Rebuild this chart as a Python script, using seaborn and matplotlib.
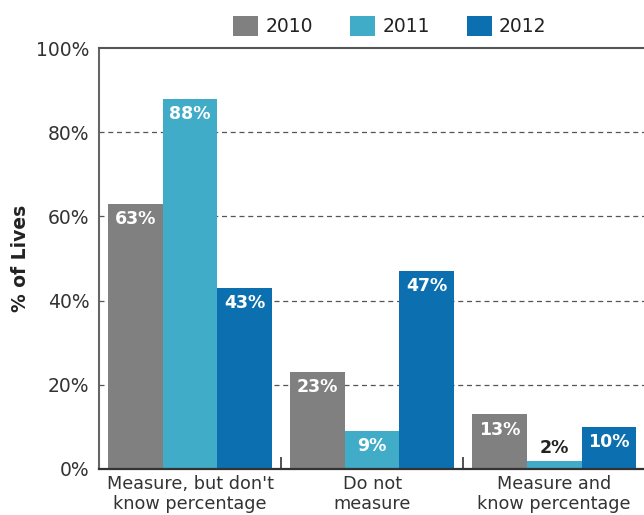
import matplotlib
matplotlib.use("Agg")
import matplotlib.pyplot as plt
import matplotlib.ticker as mticker
from matplotlib.patches import Patch
import seaborn as sns
import pandas as pd

categories = ["Measure, but don't\nknow percentage", "Do not\nmeasure", "Measure and\nknow percentage"]
years = ["2010", "2011", "2012"]
values_2010 = [63, 23, 13]
values_2011 = [88, 9, 2]
values_2012 = [43, 47, 10]
colors = ["#808080", "#41acc8", "#0c70b0"]

rows = []
for year, vals in zip(years, [values_2010, values_2011, values_2012]):
    for cat, v in zip(categories, vals):
        rows.append({"category": cat, "year": year, "value": v})
df = pd.DataFrame(rows)

sns.set_theme(style="white")
plt.rcParams["font.family"] = ["DejaVu Sans"]

fig = plt.figure(figsize=(6.44, 5.15), dpi=100)
ax = fig.add_axes([99 / 644, 1 - 469 / 515, 1 - 99 / 644 + 0.002, (469 - 48) / 515])

sns.barplot(data=df, x="category", y="value", hue="year", order=categories,
            hue_order=years, palette=colors, width=0.9, gap=0, saturation=1,
            linewidth=0, legend=False, ax=ax)

ax.set_ylim(0, 100)
ax.set_xlim(-0.5, 2.5)
ax.yaxis.set_major_locator(mticker.MultipleLocator(20))
ax.yaxis.set_major_formatter(mticker.FuncFormatter(lambda v, p: f"{v:.0f}%"))
ax.tick_params(axis="y", length=0, labelsize=13.5, pad=7, labelcolor="#333333")
ax.tick_params(axis="x", which="major", length=0, labelsize=12.7, pad=4, labelcolor="#333333")
ax.set_xticks([0.5, 1.5], minor=True)
ax.tick_params(axis="x", which="minor", bottom=True, direction="in", length=9,
               width=1.3, color="#444444")

for y in [20, 40, 60, 80]:
    ax.axhline(y, color="#555555", lw=0.9, ls=(0, (4, 3)), zorder=0)
ax.axhline(100, color="#555555", lw=1.5, zorder=3, clip_on=False)

for side in ["top", "right"]:
    ax.spines[side].set_visible(False)
ax.spines["left"].set_color("#666666")
ax.spines["left"].set_linewidth(1.5)
ax.spines["bottom"].set_color("#333333")
ax.spines["bottom"].set_linewidth(1.6)

ax.set_xlabel("")
ax.set_ylabel("% of Lives", fontsize=13.5, fontweight="bold", color="#222222", labelpad=4)

for container in ax.containers:
    for bar in container:
        h = bar.get_height()
        cx = bar.get_x() + bar.get_width() / 2
        if h < 6:
            ax.annotate(f"{h:.0f}%", (cx, h), xytext=(0, 9), textcoords="offset points",
                        ha="center", va="center", fontsize=12.5, fontweight="bold", color="#222222")
        else:
            ax.annotate(f"{h:.0f}%", (cx, h), xytext=(0, -11), textcoords="offset points",
                        ha="center", va="center", fontsize=12.5, fontweight="bold", color="white")

handles = [Patch(facecolor=c, edgecolor="none") for c in colors]
fig.legend(handles, years, loc="center", bbox_to_anchor=(390 / 644, 1 - 26 / 515), ncol=3,
           frameon=False, fontsize=13.5, handlelength=1.3, handleheight=1.3,
           handletextpad=0.4, columnspacing=2.0, labelcolor="#222222")

fig.savefig("out.png", dpi=100)
